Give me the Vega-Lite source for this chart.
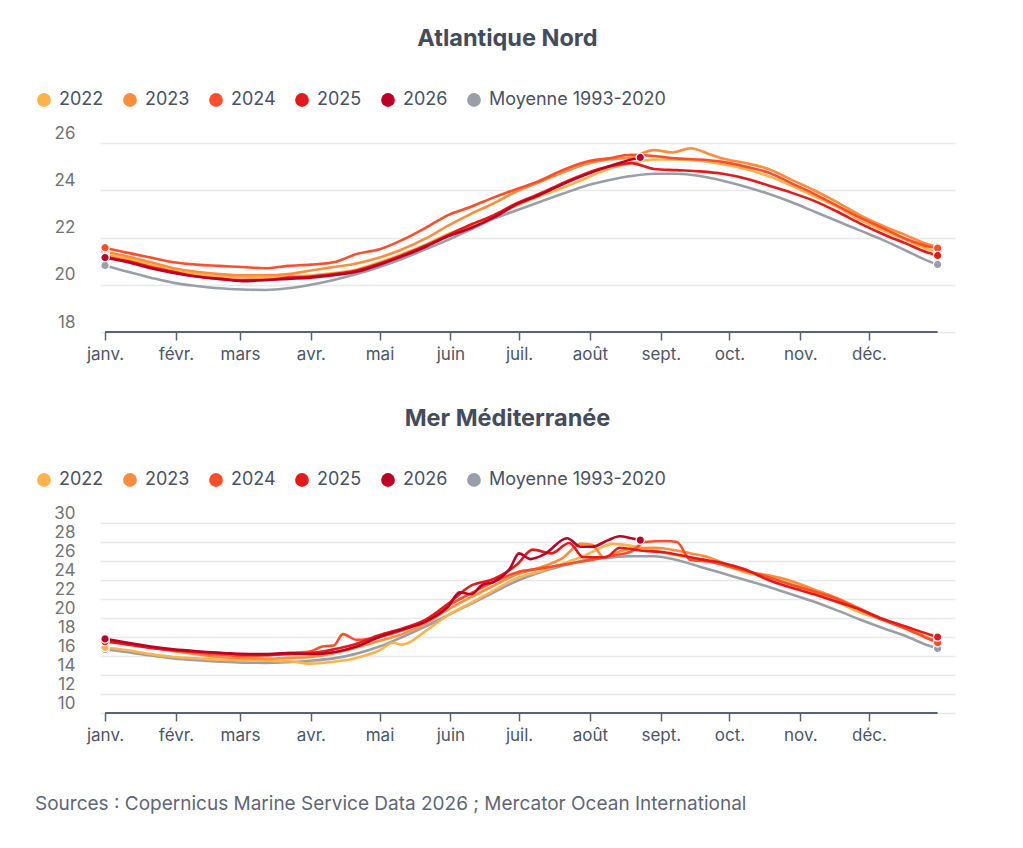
{
  "$schema": "https://vega.github.io/schema/vega-lite/v6.json",
  "background": "white",
  "padding": {"left": 35, "top": 26, "right": 40, "bottom": 20},
  "config": {
    "font": "Inter",
    "view": {"stroke": null},
    "title": {"font": "Inter", "fontSize": 23.5, "fontWeight": "bold", "color": "#434b5c", "anchor": "middle"},
    "axis": {"labelFont": "Inter", "title": null},
    "legend": {"labelFont": "Inter"}
  },
  "title": {
    "text": "Sources : Copernicus Marine Service Data 2026 ; Mercator Ocean International",
    "orient": "bottom",
    "anchor": "start",
    "fontSize": 19,
    "fontWeight": "normal",
    "color": "#5f6675",
    "offset": 52
  },
  "datasets": {
    "atl": [
      {"s": "Moyenne 1993-2020", "d": 0, "t": 20.82}, {"s": "Moyenne 1993-2020", "d": 10, "t": 20.55}, {"s": "Moyenne 1993-2020", "d": 20, "t": 20.3}, {"s": "Moyenne 1993-2020", "d": 30, "t": 20.08}, {"s": "Moyenne 1993-2020", "d": 40, "t": 19.95}, {"s": "Moyenne 1993-2020", "d": 50, "t": 19.85}, {"s": "Moyenne 1993-2020", "d": 60, "t": 19.8}, {"s": "Moyenne 1993-2020", "d": 70, "t": 19.78}, {"s": "Moyenne 1993-2020", "d": 80, "t": 19.85}, {"s": "Moyenne 1993-2020", "d": 90, "t": 20.0}, {"s": "Moyenne 1993-2020", "d": 100, "t": 20.2}, {"s": "Moyenne 1993-2020", "d": 110, "t": 20.45}, {"s": "Moyenne 1993-2020", "d": 120, "t": 20.75}, {"s": "Moyenne 1993-2020", "d": 130, "t": 21.1}, {"s": "Moyenne 1993-2020", "d": 140, "t": 21.5}, {"s": "Moyenne 1993-2020", "d": 150, "t": 21.9}, {"s": "Moyenne 1993-2020", "d": 160, "t": 22.35}, {"s": "Moyenne 1993-2020", "d": 170, "t": 22.8}, {"s": "Moyenne 1993-2020", "d": 180, "t": 23.15}, {"s": "Moyenne 1993-2020", "d": 190, "t": 23.5}, {"s": "Moyenne 1993-2020", "d": 200, "t": 23.85}, {"s": "Moyenne 1993-2020", "d": 210, "t": 24.18}, {"s": "Moyenne 1993-2020", "d": 220, "t": 24.42}, {"s": "Moyenne 1993-2020", "d": 230, "t": 24.6}, {"s": "Moyenne 1993-2020", "d": 240, "t": 24.7}, {"s": "Moyenne 1993-2020", "d": 250, "t": 24.7}, {"s": "Moyenne 1993-2020", "d": 260, "t": 24.6}, {"s": "Moyenne 1993-2020", "d": 270, "t": 24.4}, {"s": "Moyenne 1993-2020", "d": 280, "t": 24.15}, {"s": "Moyenne 1993-2020", "d": 290, "t": 23.85}, {"s": "Moyenne 1993-2020", "d": 300, "t": 23.5}, {"s": "Moyenne 1993-2020", "d": 310, "t": 23.1}, {"s": "Moyenne 1993-2020", "d": 320, "t": 22.7}, {"s": "Moyenne 1993-2020", "d": 330, "t": 22.3}, {"s": "Moyenne 1993-2020", "d": 340, "t": 21.9}, {"s": "Moyenne 1993-2020", "d": 350, "t": 21.45}, {"s": "Moyenne 1993-2020", "d": 360, "t": 21.0}, {"s": "Moyenne 1993-2020", "d": 364, "t": 20.86},
      {"s": "2022", "d": 0, "t": 21.3}, {"s": "2022", "d": 10, "t": 21.1}, {"s": "2022", "d": 20, "t": 20.85}, {"s": "2022", "d": 30, "t": 20.6}, {"s": "2022", "d": 40, "t": 20.45}, {"s": "2022", "d": 50, "t": 20.35}, {"s": "2022", "d": 60, "t": 20.32}, {"s": "2022", "d": 70, "t": 20.3}, {"s": "2022", "d": 80, "t": 20.35}, {"s": "2022", "d": 90, "t": 20.4}, {"s": "2022", "d": 100, "t": 20.5}, {"s": "2022", "d": 110, "t": 20.65}, {"s": "2022", "d": 120, "t": 20.95}, {"s": "2022", "d": 130, "t": 21.3}, {"s": "2022", "d": 140, "t": 21.7}, {"s": "2022", "d": 150, "t": 22.15}, {"s": "2022", "d": 160, "t": 22.5}, {"s": "2022", "d": 170, "t": 22.9}, {"s": "2022", "d": 180, "t": 23.35}, {"s": "2022", "d": 190, "t": 23.75}, {"s": "2022", "d": 200, "t": 24.1}, {"s": "2022", "d": 210, "t": 24.5}, {"s": "2022", "d": 220, "t": 24.9}, {"s": "2022", "d": 230, "t": 25.15}, {"s": "2022", "d": 240, "t": 25.3}, {"s": "2022", "d": 250, "t": 25.3}, {"s": "2022", "d": 260, "t": 25.25}, {"s": "2022", "d": 270, "t": 25.1}, {"s": "2022", "d": 280, "t": 24.9}, {"s": "2022", "d": 290, "t": 24.6}, {"s": "2022", "d": 300, "t": 24.2}, {"s": "2022", "d": 310, "t": 23.75}, {"s": "2022", "d": 320, "t": 23.3}, {"s": "2022", "d": 330, "t": 22.75}, {"s": "2022", "d": 340, "t": 22.3}, {"s": "2022", "d": 350, "t": 21.9}, {"s": "2022", "d": 360, "t": 21.5}, {"s": "2022", "d": 364, "t": 21.4},
      {"s": "2023", "d": 0, "t": 21.4}, {"s": "2023", "d": 10, "t": 21.2}, {"s": "2023", "d": 20, "t": 20.95}, {"s": "2023", "d": 30, "t": 20.7}, {"s": "2023", "d": 40, "t": 20.55}, {"s": "2023", "d": 50, "t": 20.45}, {"s": "2023", "d": 60, "t": 20.4}, {"s": "2023", "d": 70, "t": 20.4}, {"s": "2023", "d": 80, "t": 20.45}, {"s": "2023", "d": 90, "t": 20.6}, {"s": "2023", "d": 100, "t": 20.75}, {"s": "2023", "d": 110, "t": 20.9}, {"s": "2023", "d": 120, "t": 21.15}, {"s": "2023", "d": 130, "t": 21.5}, {"s": "2023", "d": 140, "t": 21.95}, {"s": "2023", "d": 150, "t": 22.5}, {"s": "2023", "d": 160, "t": 23.0}, {"s": "2023", "d": 170, "t": 23.45}, {"s": "2023", "d": 180, "t": 23.95}, {"s": "2023", "d": 190, "t": 24.35}, {"s": "2023", "d": 200, "t": 24.75}, {"s": "2023", "d": 210, "t": 25.1}, {"s": "2023", "d": 220, "t": 25.3}, {"s": "2023", "d": 230, "t": 25.4}, {"s": "2023", "d": 240, "t": 25.7}, {"s": "2023", "d": 248, "t": 25.6}, {"s": "2023", "d": 256, "t": 25.78}, {"s": "2023", "d": 265, "t": 25.5}, {"s": "2023", "d": 272, "t": 25.3}, {"s": "2023", "d": 280, "t": 25.15}, {"s": "2023", "d": 290, "t": 24.9}, {"s": "2023", "d": 300, "t": 24.45}, {"s": "2023", "d": 310, "t": 24.0}, {"s": "2023", "d": 320, "t": 23.5}, {"s": "2023", "d": 330, "t": 22.95}, {"s": "2023", "d": 340, "t": 22.5}, {"s": "2023", "d": 350, "t": 22.1}, {"s": "2023", "d": 360, "t": 21.7}, {"s": "2023", "d": 364, "t": 21.6},
      {"s": "2024", "d": 0, "t": 21.57}, {"s": "2024", "d": 10, "t": 21.35}, {"s": "2024", "d": 20, "t": 21.15}, {"s": "2024", "d": 30, "t": 20.95}, {"s": "2024", "d": 40, "t": 20.85}, {"s": "2024", "d": 50, "t": 20.8}, {"s": "2024", "d": 60, "t": 20.75}, {"s": "2024", "d": 70, "t": 20.7}, {"s": "2024", "d": 80, "t": 20.8}, {"s": "2024", "d": 90, "t": 20.85}, {"s": "2024", "d": 100, "t": 20.95}, {"s": "2024", "d": 110, "t": 21.3}, {"s": "2024", "d": 120, "t": 21.5}, {"s": "2024", "d": 130, "t": 21.9}, {"s": "2024", "d": 140, "t": 22.4}, {"s": "2024", "d": 150, "t": 22.95}, {"s": "2024", "d": 160, "t": 23.3}, {"s": "2024", "d": 170, "t": 23.7}, {"s": "2024", "d": 180, "t": 24.05}, {"s": "2024", "d": 190, "t": 24.4}, {"s": "2024", "d": 200, "t": 24.85}, {"s": "2024", "d": 210, "t": 25.2}, {"s": "2024", "d": 220, "t": 25.35}, {"s": "2024", "d": 230, "t": 25.5}, {"s": "2024", "d": 240, "t": 25.45}, {"s": "2024", "d": 250, "t": 25.35}, {"s": "2024", "d": 260, "t": 25.3}, {"s": "2024", "d": 270, "t": 25.2}, {"s": "2024", "d": 280, "t": 25.0}, {"s": "2024", "d": 290, "t": 24.75}, {"s": "2024", "d": 300, "t": 24.3}, {"s": "2024", "d": 310, "t": 23.85}, {"s": "2024", "d": 320, "t": 23.35}, {"s": "2024", "d": 330, "t": 22.85}, {"s": "2024", "d": 340, "t": 22.4}, {"s": "2024", "d": 350, "t": 21.95}, {"s": "2024", "d": 360, "t": 21.62}, {"s": "2024", "d": 364, "t": 21.55},
      {"s": "2025", "d": 0, "t": 21.2}, {"s": "2025", "d": 10, "t": 21.0}, {"s": "2025", "d": 20, "t": 20.75}, {"s": "2025", "d": 30, "t": 20.55}, {"s": "2025", "d": 40, "t": 20.35}, {"s": "2025", "d": 50, "t": 20.25}, {"s": "2025", "d": 60, "t": 20.2}, {"s": "2025", "d": 70, "t": 20.2}, {"s": "2025", "d": 80, "t": 20.3}, {"s": "2025", "d": 90, "t": 20.35}, {"s": "2025", "d": 100, "t": 20.45}, {"s": "2025", "d": 110, "t": 20.6}, {"s": "2025", "d": 120, "t": 20.9}, {"s": "2025", "d": 130, "t": 21.25}, {"s": "2025", "d": 140, "t": 21.65}, {"s": "2025", "d": 150, "t": 22.1}, {"s": "2025", "d": 160, "t": 22.55}, {"s": "2025", "d": 170, "t": 22.95}, {"s": "2025", "d": 180, "t": 23.45}, {"s": "2025", "d": 190, "t": 23.85}, {"s": "2025", "d": 200, "t": 24.3}, {"s": "2025", "d": 210, "t": 24.7}, {"s": "2025", "d": 220, "t": 25.0}, {"s": "2025", "d": 230, "t": 25.15}, {"s": "2025", "d": 240, "t": 24.9}, {"s": "2025", "d": 250, "t": 24.85}, {"s": "2025", "d": 260, "t": 24.8}, {"s": "2025", "d": 270, "t": 24.7}, {"s": "2025", "d": 280, "t": 24.5}, {"s": "2025", "d": 290, "t": 24.2}, {"s": "2025", "d": 300, "t": 23.9}, {"s": "2025", "d": 310, "t": 23.55}, {"s": "2025", "d": 320, "t": 23.1}, {"s": "2025", "d": 330, "t": 22.6}, {"s": "2025", "d": 340, "t": 22.15}, {"s": "2025", "d": 350, "t": 21.75}, {"s": "2025", "d": 360, "t": 21.35}, {"s": "2025", "d": 364, "t": 21.24},
      {"s": "2026", "d": 0, "t": 21.15}, {"s": "2026", "d": 10, "t": 20.95}, {"s": "2026", "d": 20, "t": 20.7}, {"s": "2026", "d": 30, "t": 20.5}, {"s": "2026", "d": 40, "t": 20.35}, {"s": "2026", "d": 50, "t": 20.25}, {"s": "2026", "d": 60, "t": 20.15}, {"s": "2026", "d": 70, "t": 20.2}, {"s": "2026", "d": 80, "t": 20.25}, {"s": "2026", "d": 90, "t": 20.3}, {"s": "2026", "d": 100, "t": 20.4}, {"s": "2026", "d": 110, "t": 20.55}, {"s": "2026", "d": 120, "t": 20.85}, {"s": "2026", "d": 130, "t": 21.2}, {"s": "2026", "d": 140, "t": 21.6}, {"s": "2026", "d": 150, "t": 22.05}, {"s": "2026", "d": 160, "t": 22.4}, {"s": "2026", "d": 170, "t": 22.85}, {"s": "2026", "d": 180, "t": 23.4}, {"s": "2026", "d": 190, "t": 23.8}, {"s": "2026", "d": 200, "t": 24.25}, {"s": "2026", "d": 210, "t": 24.65}, {"s": "2026", "d": 220, "t": 25.0}, {"s": "2026", "d": 230, "t": 25.3}, {"s": "2026", "d": 234, "t": 25.39}
    ],
    "med": [
      {"s": "Moyenne 1993-2020", "d": 0, "t": 16.7}, {"s": "Moyenne 1993-2020", "d": 10, "t": 16.4}, {"s": "Moyenne 1993-2020", "d": 20, "t": 16.05}, {"s": "Moyenne 1993-2020", "d": 30, "t": 15.75}, {"s": "Moyenne 1993-2020", "d": 40, "t": 15.55}, {"s": "Moyenne 1993-2020", "d": 50, "t": 15.4}, {"s": "Moyenne 1993-2020", "d": 60, "t": 15.3}, {"s": "Moyenne 1993-2020", "d": 70, "t": 15.28}, {"s": "Moyenne 1993-2020", "d": 80, "t": 15.35}, {"s": "Moyenne 1993-2020", "d": 90, "t": 15.5}, {"s": "Moyenne 1993-2020", "d": 100, "t": 15.75}, {"s": "Moyenne 1993-2020", "d": 110, "t": 16.25}, {"s": "Moyenne 1993-2020", "d": 120, "t": 17.0}, {"s": "Moyenne 1993-2020", "d": 130, "t": 18.0}, {"s": "Moyenne 1993-2020", "d": 140, "t": 19.1}, {"s": "Moyenne 1993-2020", "d": 150, "t": 20.3}, {"s": "Moyenne 1993-2020", "d": 160, "t": 21.5}, {"s": "Moyenne 1993-2020", "d": 170, "t": 22.7}, {"s": "Moyenne 1993-2020", "d": 180, "t": 23.9}, {"s": "Moyenne 1993-2020", "d": 190, "t": 24.8}, {"s": "Moyenne 1993-2020", "d": 200, "t": 25.5}, {"s": "Moyenne 1993-2020", "d": 210, "t": 26.1}, {"s": "Moyenne 1993-2020", "d": 220, "t": 26.35}, {"s": "Moyenne 1993-2020", "d": 230, "t": 26.5}, {"s": "Moyenne 1993-2020", "d": 240, "t": 26.5}, {"s": "Moyenne 1993-2020", "d": 250, "t": 26.1}, {"s": "Moyenne 1993-2020", "d": 260, "t": 25.4}, {"s": "Moyenne 1993-2020", "d": 270, "t": 24.7}, {"s": "Moyenne 1993-2020", "d": 280, "t": 24.0}, {"s": "Moyenne 1993-2020", "d": 290, "t": 23.3}, {"s": "Moyenne 1993-2020", "d": 300, "t": 22.5}, {"s": "Moyenne 1993-2020", "d": 310, "t": 21.7}, {"s": "Moyenne 1993-2020", "d": 320, "t": 20.8}, {"s": "Moyenne 1993-2020", "d": 330, "t": 19.85}, {"s": "Moyenne 1993-2020", "d": 340, "t": 18.95}, {"s": "Moyenne 1993-2020", "d": 350, "t": 18.1}, {"s": "Moyenne 1993-2020", "d": 360, "t": 17.1}, {"s": "Moyenne 1993-2020", "d": 364, "t": 16.8},
      {"s": "2022", "d": 0, "t": 16.9}, {"s": "2022", "d": 10, "t": 16.6}, {"s": "2022", "d": 20, "t": 16.2}, {"s": "2022", "d": 30, "t": 15.9}, {"s": "2022", "d": 40, "t": 15.75}, {"s": "2022", "d": 50, "t": 15.6}, {"s": "2022", "d": 60, "t": 15.55}, {"s": "2022", "d": 70, "t": 15.5}, {"s": "2022", "d": 80, "t": 15.45}, {"s": "2022", "d": 90, "t": 15.2}, {"s": "2022", "d": 100, "t": 15.4}, {"s": "2022", "d": 110, "t": 15.8}, {"s": "2022", "d": 120, "t": 16.6}, {"s": "2022", "d": 126, "t": 17.4}, {"s": "2022", "d": 130, "t": 17.2}, {"s": "2022", "d": 140, "t": 18.6}, {"s": "2022", "d": 150, "t": 20.3}, {"s": "2022", "d": 160, "t": 21.6}, {"s": "2022", "d": 170, "t": 22.9}, {"s": "2022", "d": 180, "t": 24.2}, {"s": "2022", "d": 190, "t": 24.9}, {"s": "2022", "d": 200, "t": 25.7}, {"s": "2022", "d": 210, "t": 26.6}, {"s": "2022", "d": 215, "t": 27.2}, {"s": "2022", "d": 222, "t": 27.8}, {"s": "2022", "d": 230, "t": 27.6}, {"s": "2022", "d": 240, "t": 27.1}, {"s": "2022", "d": 250, "t": 26.6}, {"s": "2022", "d": 260, "t": 26.2}, {"s": "2022", "d": 270, "t": 25.6}, {"s": "2022", "d": 280, "t": 24.8}, {"s": "2022", "d": 290, "t": 24.3}, {"s": "2022", "d": 300, "t": 23.6}, {"s": "2022", "d": 310, "t": 22.7}, {"s": "2022", "d": 320, "t": 21.7}, {"s": "2022", "d": 330, "t": 20.6}, {"s": "2022", "d": 340, "t": 19.8}, {"s": "2022", "d": 350, "t": 18.9}, {"s": "2022", "d": 360, "t": 17.8}, {"s": "2022", "d": 364, "t": 17.4},
      {"s": "2023", "d": 0, "t": 17.6}, {"s": "2023", "d": 10, "t": 17.3}, {"s": "2023", "d": 20, "t": 16.9}, {"s": "2023", "d": 30, "t": 16.5}, {"s": "2023", "d": 40, "t": 16.2}, {"s": "2023", "d": 50, "t": 15.9}, {"s": "2023", "d": 60, "t": 15.75}, {"s": "2023", "d": 70, "t": 15.7}, {"s": "2023", "d": 80, "t": 15.8}, {"s": "2023", "d": 90, "t": 15.9}, {"s": "2023", "d": 100, "t": 16.3}, {"s": "2023", "d": 110, "t": 16.9}, {"s": "2023", "d": 120, "t": 17.6}, {"s": "2023", "d": 130, "t": 18.3}, {"s": "2023", "d": 140, "t": 19.4}, {"s": "2023", "d": 150, "t": 20.9}, {"s": "2023", "d": 160, "t": 22.2}, {"s": "2023", "d": 170, "t": 23.4}, {"s": "2023", "d": 180, "t": 24.6}, {"s": "2023", "d": 190, "t": 25.3}, {"s": "2023", "d": 200, "t": 26.3}, {"s": "2023", "d": 208, "t": 27.8}, {"s": "2023", "d": 213, "t": 27.7}, {"s": "2023", "d": 218, "t": 26.4}, {"s": "2023", "d": 225, "t": 27.0}, {"s": "2023", "d": 230, "t": 27.3}, {"s": "2023", "d": 240, "t": 27.4}, {"s": "2023", "d": 250, "t": 27.1}, {"s": "2023", "d": 256, "t": 26.8}, {"s": "2023", "d": 265, "t": 26.3}, {"s": "2023", "d": 270, "t": 25.8}, {"s": "2023", "d": 280, "t": 24.9}, {"s": "2023", "d": 290, "t": 24.5}, {"s": "2023", "d": 300, "t": 23.9}, {"s": "2023", "d": 310, "t": 23.0}, {"s": "2023", "d": 320, "t": 22.1}, {"s": "2023", "d": 330, "t": 21.0}, {"s": "2023", "d": 340, "t": 19.9}, {"s": "2023", "d": 350, "t": 19.0}, {"s": "2023", "d": 360, "t": 17.9}, {"s": "2023", "d": 364, "t": 17.5},
      {"s": "2024", "d": 0, "t": 17.7}, {"s": "2024", "d": 10, "t": 17.3}, {"s": "2024", "d": 20, "t": 16.9}, {"s": "2024", "d": 30, "t": 16.6}, {"s": "2024", "d": 40, "t": 16.35}, {"s": "2024", "d": 50, "t": 16.15}, {"s": "2024", "d": 60, "t": 16.0}, {"s": "2024", "d": 70, "t": 16.05}, {"s": "2024", "d": 80, "t": 16.3}, {"s": "2024", "d": 90, "t": 16.5}, {"s": "2024", "d": 95, "t": 17.0}, {"s": "2024", "d": 100, "t": 17.1}, {"s": "2024", "d": 104, "t": 18.3}, {"s": "2024", "d": 110, "t": 17.7}, {"s": "2024", "d": 120, "t": 18.0}, {"s": "2024", "d": 130, "t": 18.7}, {"s": "2024", "d": 140, "t": 19.7}, {"s": "2024", "d": 150, "t": 21.3}, {"s": "2024", "d": 160, "t": 22.6}, {"s": "2024", "d": 170, "t": 23.8}, {"s": "2024", "d": 180, "t": 24.8}, {"s": "2024", "d": 190, "t": 25.2}, {"s": "2024", "d": 200, "t": 25.6}, {"s": "2024", "d": 210, "t": 26.0}, {"s": "2024", "d": 220, "t": 26.5}, {"s": "2024", "d": 230, "t": 27.0}, {"s": "2024", "d": 236, "t": 28.0}, {"s": "2024", "d": 245, "t": 28.1}, {"s": "2024", "d": 250, "t": 28.0}, {"s": "2024", "d": 256, "t": 26.1}, {"s": "2024", "d": 265, "t": 25.9}, {"s": "2024", "d": 270, "t": 25.6}, {"s": "2024", "d": 280, "t": 25.0}, {"s": "2024", "d": 290, "t": 24.3}, {"s": "2024", "d": 300, "t": 23.5}, {"s": "2024", "d": 310, "t": 22.8}, {"s": "2024", "d": 320, "t": 22.0}, {"s": "2024", "d": 330, "t": 20.9}, {"s": "2024", "d": 340, "t": 19.8}, {"s": "2024", "d": 350, "t": 18.9}, {"s": "2024", "d": 360, "t": 17.8}, {"s": "2024", "d": 364, "t": 17.4},
      {"s": "2025", "d": 0, "t": 17.5}, {"s": "2025", "d": 10, "t": 17.2}, {"s": "2025", "d": 20, "t": 16.85}, {"s": "2025", "d": 30, "t": 16.6}, {"s": "2025", "d": 40, "t": 16.45}, {"s": "2025", "d": 50, "t": 16.3}, {"s": "2025", "d": 60, "t": 16.2}, {"s": "2025", "d": 70, "t": 16.15}, {"s": "2025", "d": 80, "t": 16.2}, {"s": "2025", "d": 90, "t": 16.3}, {"s": "2025", "d": 100, "t": 16.7}, {"s": "2025", "d": 110, "t": 17.3}, {"s": "2025", "d": 120, "t": 18.2}, {"s": "2025", "d": 130, "t": 18.9}, {"s": "2025", "d": 140, "t": 19.8}, {"s": "2025", "d": 150, "t": 21.5}, {"s": "2025", "d": 160, "t": 23.4}, {"s": "2025", "d": 170, "t": 24.1}, {"s": "2025", "d": 180, "t": 25.6}, {"s": "2025", "d": 187, "t": 27.2}, {"s": "2025", "d": 195, "t": 26.8}, {"s": "2025", "d": 203, "t": 27.9}, {"s": "2025", "d": 209, "t": 26.4}, {"s": "2025", "d": 219, "t": 26.4}, {"s": "2025", "d": 225, "t": 27.4}, {"s": "2025", "d": 234, "t": 27.1}, {"s": "2025", "d": 245, "t": 26.9}, {"s": "2025", "d": 260, "t": 26.2}, {"s": "2025", "d": 270, "t": 25.8}, {"s": "2025", "d": 280, "t": 25.1}, {"s": "2025", "d": 290, "t": 24.0}, {"s": "2025", "d": 300, "t": 23.2}, {"s": "2025", "d": 310, "t": 22.5}, {"s": "2025", "d": 320, "t": 21.7}, {"s": "2025", "d": 330, "t": 20.9}, {"s": "2025", "d": 340, "t": 19.9}, {"s": "2025", "d": 350, "t": 19.1}, {"s": "2025", "d": 360, "t": 18.3}, {"s": "2025", "d": 364, "t": 18.0},
      {"s": "2026", "d": 0, "t": 17.8}, {"s": "2026", "d": 10, "t": 17.4}, {"s": "2026", "d": 20, "t": 17.0}, {"s": "2026", "d": 30, "t": 16.7}, {"s": "2026", "d": 40, "t": 16.5}, {"s": "2026", "d": 50, "t": 16.35}, {"s": "2026", "d": 60, "t": 16.2}, {"s": "2026", "d": 70, "t": 16.2}, {"s": "2026", "d": 80, "t": 16.3}, {"s": "2026", "d": 90, "t": 16.2}, {"s": "2026", "d": 100, "t": 16.4}, {"s": "2026", "d": 110, "t": 17.0}, {"s": "2026", "d": 120, "t": 18.0}, {"s": "2026", "d": 130, "t": 18.8}, {"s": "2026", "d": 140, "t": 19.6}, {"s": "2026", "d": 150, "t": 21.2}, {"s": "2026", "d": 155, "t": 22.7}, {"s": "2026", "d": 160, "t": 22.5}, {"s": "2026", "d": 165, "t": 23.5}, {"s": "2026", "d": 170, "t": 23.8}, {"s": "2026", "d": 177, "t": 25.2}, {"s": "2026", "d": 181, "t": 26.8}, {"s": "2026", "d": 186, "t": 26.2}, {"s": "2026", "d": 192, "t": 26.7}, {"s": "2026", "d": 202, "t": 28.4}, {"s": "2026", "d": 208, "t": 27.5}, {"s": "2026", "d": 213, "t": 27.5}, {"s": "2026", "d": 220, "t": 28.2}, {"s": "2026", "d": 225, "t": 28.6}, {"s": "2026", "d": 230, "t": 28.4}, {"s": "2026", "d": 234, "t": 28.2}
    ]
  },
  "spacing": 44,
  "resolve": {"legend": {"color": "independent"}},
  "vconcat": [
    {
      "width": 855,
      "height": 189,
      "title": {"text": "Atlantique Nord", "offset": 41, "dx": -20},
      "data": {"name": "atl"},
      "encoding": {
        "x": {
          "field": "d", "type": "quantitative",
          "scale": {"domain": [-2.2, 371.6], "nice": false, "zero": false},
          "axis": {
            "values": [0, 31, 59, 90, 120, 151, 181, 212, 243, 273, 304, 334],
            "labelExpr": "['janv.','févr.','mars','avr.','mai','juin','juil.','août','sept.','oct.','nov.','déc.'][indexof([0,31,59,90,120,151,181,212,243,273,304,334], datum.value)]",
            "grid": false, "domain": false, "ticks": true, "tickColor": "#5b6272", "tickSize": 8, "tickWidth": 1.5,
            "labelFontSize": 17, "labelColor": "#4d5566", "labelPadding": 6
          }
        },
        "y": {
          "field": "t", "type": "quantitative",
          "scale": {"domain": [18, 26], "nice": false, "zero": false},
          "axis": {
            "values": [18, 20, 22, 24, 26],
            "grid": true, "gridColor": "#e8e8e8", "gridWidth": 1.5,
            "domain": false, "ticks": false, "labelPadding": 25,
            "labelBaseline": "bottom", "labelOffset": -1,
            "labelFontSize": 17, "labelColor": "#737373"
          }
        },
        "color": {
          "field": "s", "type": "nominal",
          "scale": {
            "domain": ["2022", "2023", "2024", "2025", "2026", "Moyenne 1993-2020"],
            "range": ["#feb24c", "#fd8d3c", "#fc4e2a", "#e31a1c", "#bd0026", "#9a9ea6"]
          },
          "legend": {
            "title": null, "orient": "none", "legendX": -65, "legendY": -52, "direction": "horizontal",
            "symbolType": "circle", "symbolSize": 190, "symbolStrokeWidth": 0,
            "labelFontSize": 18, "labelColor": "#4a5163", "labelOffset": 6, "columnPadding": 17, "labelLimit": 0
          }
        }
      },
      "layer": [
        {"mark": {"type": "line", "strokeWidth": 2.6, "interpolate": "monotone"}},
        {
          "transform": [
            {"joinaggregate": [{"op": "max", "field": "d", "as": "last"}], "groupby": ["s"]},
            {"filter": "datum.d == 0 || datum.d == datum.last"}
          ],
          "mark": {"type": "circle", "size": 70, "opacity": 1, "stroke": "white", "strokeWidth": 1.2}
        },
        {
          "data": {"values": [{"a": 0, "b": 364, "v": 18}]},
          "mark": {"type": "rule", "color": "#5b6272", "strokeWidth": 2},
          "encoding": {
            "x": {"field": "a", "type": "quantitative"},
            "x2": {"field": "b"},
            "y": {"field": "v", "type": "quantitative"},
            "color": {"value": "#5b6272"}
          }
        }
      ]
    },
    {
      "width": 855,
      "height": 190,
      "title": {"text": "Mer Méditerranée", "offset": 41, "dx": -20},
      "data": {"name": "med"},
      "encoding": {
        "x": {
          "field": "d", "type": "quantitative",
          "scale": {"domain": [-2.2, 371.6], "nice": false, "zero": false},
          "axis": {
            "values": [0, 31, 59, 90, 120, 151, 181, 212, 243, 273, 304, 334],
            "labelExpr": "['janv.','févr.','mars','avr.','mai','juin','juil.','août','sept.','oct.','nov.','déc.'][indexof([0,31,59,90,120,151,181,212,243,273,304,334], datum.value)]",
            "grid": false, "domain": false, "ticks": true, "tickColor": "#5b6272", "tickSize": 8, "tickWidth": 1.5,
            "labelFontSize": 17, "labelColor": "#4d5566", "labelPadding": 6
          }
        },
        "y": {
          "field": "t", "type": "quantitative",
          "scale": {"domain": [10, 30], "nice": false, "zero": false},
          "axis": {
            "values": [10, 12, 14, 16, 18, 20, 22, 24, 26, 28, 30],
            "grid": true, "gridColor": "#e8e8e8", "gridWidth": 1.5,
            "domain": false, "ticks": false, "labelPadding": 25,
            "labelBaseline": "bottom", "labelOffset": -1,
            "labelFontSize": 17, "labelColor": "#737373"
          }
        },
        "color": {
          "field": "s", "type": "nominal",
          "scale": {
            "domain": ["2022", "2023", "2024", "2025", "2026", "Moyenne 1993-2020"],
            "range": ["#feb24c", "#fd8d3c", "#fc4e2a", "#e31a1c", "#bd0026", "#9a9ea6"]
          },
          "legend": {
            "title": null, "orient": "none", "legendX": -65, "legendY": -52, "direction": "horizontal",
            "symbolType": "circle", "symbolSize": 190, "symbolStrokeWidth": 0,
            "labelFontSize": 18, "labelColor": "#4a5163", "labelOffset": 6, "columnPadding": 17, "labelLimit": 0
          }
        }
      },
      "layer": [
        {"mark": {"type": "line", "strokeWidth": 2.6, "interpolate": "monotone"}},
        {
          "transform": [
            {"joinaggregate": [{"op": "max", "field": "d", "as": "last"}], "groupby": ["s"]},
            {"filter": "datum.d == 0 || datum.d == datum.last"}
          ],
          "mark": {"type": "circle", "size": 70, "opacity": 1, "stroke": "white", "strokeWidth": 1.2}
        },
        {
          "data": {"values": [{"a": 0, "b": 364, "v": 10}]},
          "mark": {"type": "rule", "color": "#5b6272", "strokeWidth": 2},
          "encoding": {
            "x": {"field": "a", "type": "quantitative"},
            "x2": {"field": "b"},
            "y": {"field": "v", "type": "quantitative"},
            "color": {"value": "#5b6272"}
          }
        }
      ]
    }
  ]
}
